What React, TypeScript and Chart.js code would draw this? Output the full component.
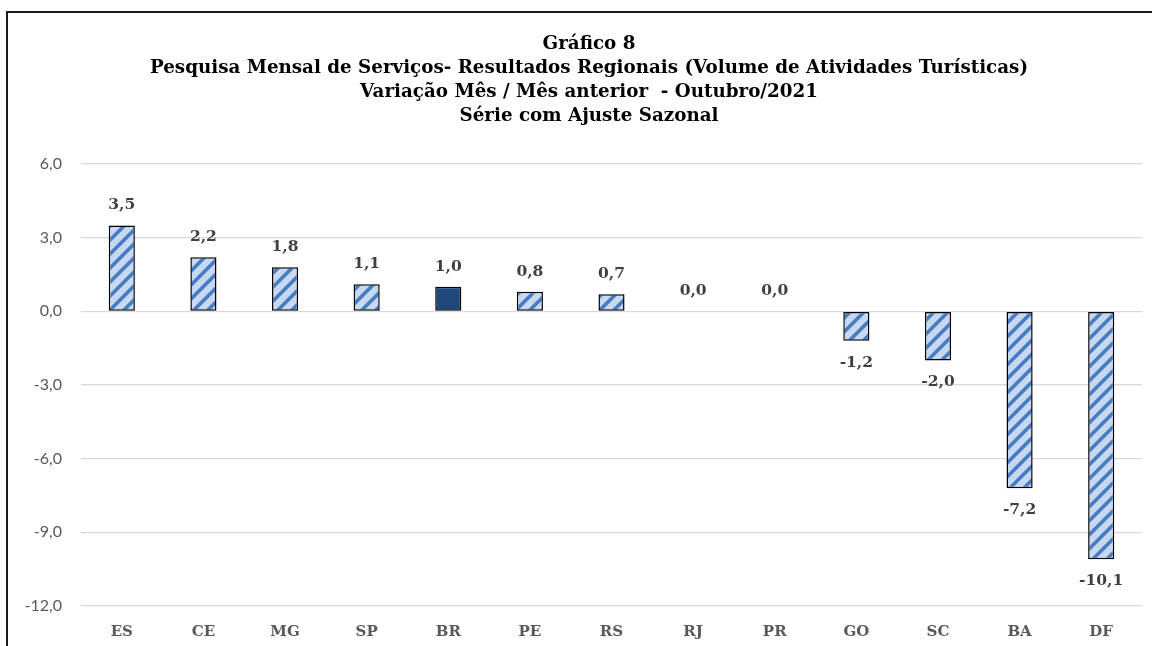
import React, { useEffect, useRef } from "react";
import { Chart, registerables } from "chart.js";

Chart.register(...registerables);

const titleLines = [
  "Gráfico 8",
  "Pesquisa Mensal de Serviços- Resultados Regionais (Volume de Atividades Turísticas)",
  "Variação Mês / Mês anterior  - Outubro/2021",
  "Série com Ajuste Sazonal",
];
const categories = ["ES", "CE", "MG", "SP", "BR", "PE", "RS", "RJ", "PR", "GO", "SC", "BA", "DF"];
const values = [3.5, 2.2, 1.8, 1.1, 1.0, 0.8, 0.7, 0.0, 0.0, -1.2, -2.0, -7.2, -10.1];
const highlight = "BR";
const yMin = -12;
const yMax = 6;
const yStep = 3;

const fmt = (v: number) => v.toFixed(1).replace(".", ",").replace("-0,0", "0,0");

function makeHatch(): CanvasPattern | string {
  const size = 14;
  const c = document.createElement("canvas");
  c.width = size;
  c.height = size;
  const g = c.getContext("2d");
  if (!g) return "#c6d9f1";
  g.fillStyle = "#c6d9f1";
  g.fillRect(0, 0, size, size);
  g.strokeStyle = "#467cc2";
  g.lineWidth = 3.6;
  g.lineCap = "square";
  for (let k = -1; k <= 1; k++) {
    g.beginPath();
    g.moveTo(k * size - 2, size + 2);
    g.lineTo(k * size + size + 2, -2);
    g.stroke();
  }
  const p = g.createPattern(c, "repeat");
  return p || "#c6d9f1";
}

const titlePlugin = {
  id: "frameTitle",
  afterDraw(chart: any) {
    const ctx = chart.ctx;
    ctx.save();
    ctx.font = "bold 18.3px 'DejaVu Serif', serif";
    ctx.fillStyle = "#000000";
    ctx.textAlign = "center";
    ctx.textBaseline = "middle";
    titleLines.forEach((t, i) => {
      ctx.fillText(t, 589, 44 + i * 24);
    });
    ctx.restore();
  },
};

const labelPlugin = {
  id: "valueLabels",
  afterDatasetsDraw(chart: any) {
    const ctx = chart.ctx;
    const meta = chart.getDatasetMeta(0);
    ctx.save();
    ctx.font = "bold 15.5px 'DejaVu Serif', serif";
    ctx.fillStyle = "#404040";
    ctx.textAlign = "center";
    ctx.textBaseline = "middle";
    meta.data.forEach((el: any, i: number) => {
      const v = values[i];
      const y = v >= 0 ? el.y - 20 : el.y + 22;
      ctx.fillText(fmt(v), el.x, y);
    });
    ctx.restore();
  },
};

export default function App() {
  const ref = useRef<HTMLCanvasElement | null>(null);
  useEffect(() => {
    if (!ref.current) return;
    const hatch = makeHatch();
    const chart = new Chart(ref.current, {
      type: "bar",
      data: {
        labels: categories,
        datasets: [
          {
            data: values,
            backgroundColor: categories.map((c) => (c === highlight ? "#1f497d" : hatch)) as any,
            borderColor: "#000000",
            borderWidth: 1.5,
            borderSkipped: false,
            barPercentage: 0.32,
            categoryPercentage: 1,
          },
        ],
      },
      options: {
        responsive: false,
        animation: false,
        devicePixelRatio: 1,
        layout: { padding: { left: 10, right: 10, top: 164, bottom: 0 } },
        plugins: {
          legend: { display: false },
          tooltip: { enabled: false },
          title: { display: false },
        },
        scales: {
          x: {
            grid: { display: false, drawTicks: false },
            border: { display: false },
            ticks: {
              color: "#595959",
              font: { family: "'DejaVu Serif', serif", size: 15, weight: "bold" },
              padding: 17,
            },
            afterFit: (s: any) => {
              s.height = 40;
            },
          },
          y: {
            min: yMin,
            max: yMax,
            grid: { color: "#d9d9d9", lineWidth: 1.3, drawTicks: false },
            border: { display: false },
            ticks: {
              stepSize: yStep,
              color: "#595959",
              font: { family: "Lato, sans-serif", size: 16 },
              padding: 19,
              callback: (v: any) => fmt(Number(v)),
            },
            afterFit: (s: any) => {
              s.width = 71;
            },
          },
        },
      },
      plugins: [labelPlugin, titlePlugin],
    });
    return () => chart.destroy();
  }, []);

  return (
    <div style={{ position: "fixed", left: 0, top: 0, width: 1152, height: 646, overflow: "hidden", background: "#fff" }}>
      <div
        style={{
          position: "absolute",
          left: 6,
          top: 11,
          width: 1300,
          height: 800,
          border: "2px solid #1a1a1a",
        }}
      />
      <div style={{ position: "absolute", left: 0, top: 0, width: 1152, height: 646 }}>
        <canvas ref={ref} width={1152} height={646} />
      </div>
    </div>
  );
}
